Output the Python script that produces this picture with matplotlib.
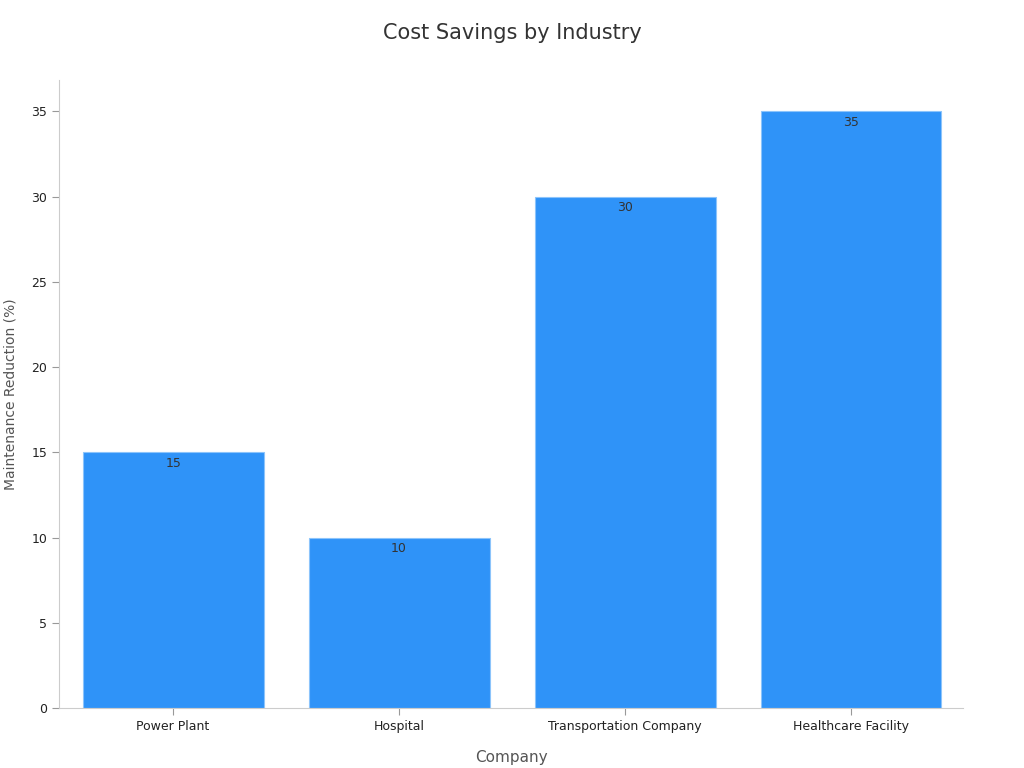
import matplotlib.pyplot as plt

categories = ["Power Plant", "Hospital", "Transportation Company", "Healthcare Facility"]
values = [15, 10, 30, 35]

fig = plt.figure(figsize=(10.24, 7.68), dpi=100)
ax = fig.add_axes([0.0576, 0.078, 0.8828, 0.818])

x = range(len(categories))
bars = ax.bar(x, values, width=0.8, color="#2f93f8", edgecolor="#8cc4fb", linewidth=0.8)
for b, v in zip(bars, values):
    ax.text(b.get_x() + b.get_width() / 2, v - 0.25, str(v), ha="center", va="top",
            fontsize=9, color="#333333")

ax.set_xlim(-0.505, 3.495)
ax.set_ylim(0, 36.85)
ax.set_xticks(list(x))
ax.set_xticklabels(categories, fontsize=9, color="#222222")
ax.set_yticks(range(0, 36, 5))
ax.tick_params(axis="y", labelsize=9, colors="#222222", length=5, color="#999999")
ax.tick_params(axis="x", length=5, color="#999999")
for s in ["top", "right"]:
    ax.spines[s].set_visible(False)
for s in ["left", "bottom"]:
    ax.spines[s].set_color("#cccccc")

ax.set_xlabel("Company", fontsize=11, color="#555555", labelpad=12)
ax.set_ylabel("Maintenance Reduction (%)", fontsize=10, color="#555555", labelpad=10)
fig.suptitle("Cost Savings by Industry", fontsize=15, color="#333333", y=0.97)

fig.savefig("out.png", dpi=100)
